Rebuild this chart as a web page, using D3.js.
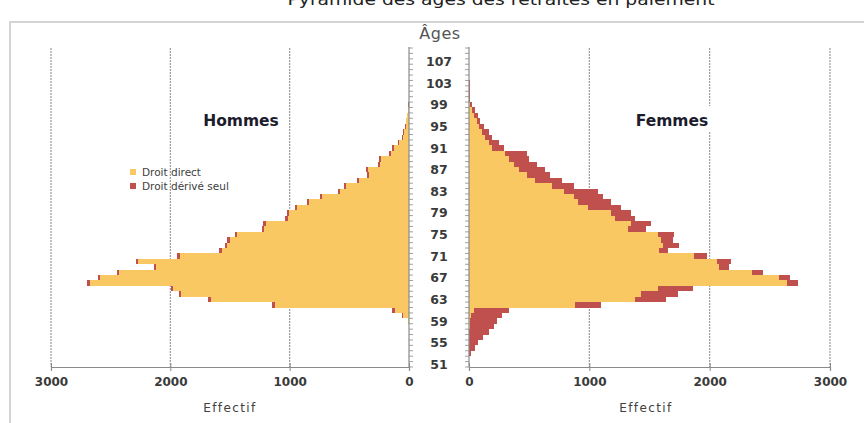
<!DOCTYPE html>
<html>
<head>
<meta charset="utf-8">
<script src="https://cdn.jsdelivr.net/npm/d3@7"></script>
<style>
  body { margin: 0; background: #fff; }
  svg { display: block; }
</style>
</head>
<body>
<div id="chart"></div>
<script>
// categories: ages shown on the vertical axis
let ageMin = 51, ageMax = 109;
let ageTicks = [51, 55, 59, 63, 67, 71, 75, 79, 83, 87, 91, 95, 99, 103, 107];
let xTicks = [0, 1000, 2000, 3000];

// ages with data (51 -> 103)
let dataAges = [51, 52, 53, 54, 55, 56, 57, 58, 59, 60,
  61, 62, 63, 64, 65, 66, 67, 68, 69, 70,
  71, 72, 73, 74, 75, 76, 77, 78, 79, 80,
  81, 82, 83, 84, 85, 86, 87, 88, 89, 90,
  91, 92, 93, 94, 95, 96, 97, 98, 99, 100,
  101, 102, 103];

let hommesDirect = [0, 0, 0, 0, 0, 0, 0, 0, 5, 48,
  120, 1126, 1663, 1909, 1979, 2677, 2587, 2427, 2119, 2273,
  1923, 1570, 1522, 1503, 1438, 1212, 1202, 1018, 1004, 940,
  836, 732, 575, 528, 416, 332, 346, 244, 232, 152,
  126, 83, 50, 38, 25, 21, 14, 5, 1, 0,
  0, 0, 0];
let hommesDerive = [0, 0, 0, 0, 0, 0, 0, 0, 0, 12,
  20, 22, 18, 18, 18, 20, 18, 18, 18, 18,
  18, 18, 18, 18, 18, 18, 18, 18, 18, 18,
  18, 18, 18, 18, 18, 18, 18, 18, 18, 16,
  14, 12, 10, 9, 8, 7, 6, 5, 4, 2,
  0, 0, 0];

let femmesDirect = [0, 0, 0, 0, 0, 0, 0, 5, 10, 20,
  40, 880, 1376, 1431, 1569, 2643, 2574, 2354, 2079, 2065,
  1872, 1577, 1610, 1597, 1569, 1321, 1349, 1211, 1183, 990,
  908, 870, 790, 690, 550, 481, 412, 370, 329, 301,
  191, 164, 136, 109, 87, 67, 40, 21, 8, 0,
  0, 0, 0];
let femmesDerive = [0, 0, 20, 50, 75, 120, 164, 200, 223, 254,
  289, 221, 262, 303, 289, 88, 91, 88, 82, 115,
  105, 80, 138, 96, 132, 152, 165, 165, 166, 276,
  276, 244, 284, 180, 220, 193, 220, 193, 167, 180,
  97, 82, 55, 55, 35, 28, 36, 27, 18, 12,
  10, 8, 6];

let seriesNames = ['Droit direct', 'Droit dérivé seul'];
let colors = ['#F9C863', '#C0504D'];

let width = 864, height = 423;
let plotTop = 48, plotBottom = 367;

let svg = d3.select('#chart').append('svg')
  .attr('width', width)
  .attr('height', height)
  .style('font-family', 'DejaVu Sans, sans-serif');

// chart frame
svg.append('rect')
  .attr('x', 10).attr('y', 22)
  .attr('width', 880).attr('height', 430)
  .attr('fill', 'none')
  .attr('stroke', '#d4d4d4')
  .attr('stroke-width', 2);

// title (cut off at the top in the original)
svg.append('text')
  .attr('x', 501).attr('y', 5)
  .attr('text-anchor', 'middle')
  .attr('font-size', 15)
  .attr('fill', '#222')
  .attr('textLength', 427)
  .attr('lengthAdjust', 'spacingAndGlyphs')
  .text('Pyramide des âges des retraités en paiement');

// scales
let y = d3.scaleBand()
  .domain(d3.range(ageMin, ageMax + 1))
  .range([plotBottom, plotTop])
  .padding(0);

let xL = d3.scaleLinear().domain([0, 3000]).range([409, 51]);
let xR = d3.scaleLinear().domain([0, 3000]).range([469, 830]);

let rows = dataAges.map((a, i) => ({
  age: a,
  hd: hommesDirect[i], hv: hommesDerive[i],
  fd: femmesDirect[i], fv: femmesDerive[i]
}));

// gridlines
let grid = svg.append('g').attr('class', 'grid');
xTicks.filter(t => t > 0).forEach(t => {
  [xL(t), xR(t)].forEach(gx => {
    grid.append('line')
      .attr('x1', gx).attr('x2', gx)
      .attr('y1', plotTop).attr('y2', plotBottom)
      .attr('stroke', '#9a9a9a')
      .attr('stroke-width', 1.2)
      .attr('stroke-dasharray', '2,1');
  });
});

// bars - hommes (left)
let bw = y.bandwidth();
let left = svg.append('g').attr('class', 'hommes').attr('shape-rendering', 'crispEdges');
left.selectAll('.direct')
  .data(rows).enter().append('rect')
  .attr('x', d => xL(d.hd))
  .attr('y', d => y(d.age))
  .attr('width', d => xL(0) - xL(d.hd))
  .attr('height', bw)
  .attr('fill', colors[0]);
left.selectAll('.derive')
  .data(rows).enter().append('rect')
  .attr('x', d => xL(d.hd + d.hv))
  .attr('y', d => y(d.age))
  .attr('width', d => xL(d.hd) - xL(d.hd + d.hv))
  .attr('height', bw)
  .attr('fill', colors[1]);

// bars - femmes (right)
let right = svg.append('g').attr('class', 'femmes').attr('shape-rendering', 'crispEdges');
right.selectAll('.direct')
  .data(rows).enter().append('rect')
  .attr('x', xR(0))
  .attr('y', d => y(d.age))
  .attr('width', d => xR(d.fd) - xR(0))
  .attr('height', bw)
  .attr('fill', colors[0]);
right.selectAll('.derive')
  .data(rows).enter().append('rect')
  .attr('x', d => xR(d.fd))
  .attr('y', d => y(d.age))
  .attr('width', d => xR(d.fd + d.fv) - xR(d.fd))
  .attr('height', bw)
  .attr('fill', colors[1]);

// vertical age axes with a tick at every category edge
let axisColor = '#8a8a8a';
let edges = y.domain().map(a => y(a)).concat([plotBottom]);
let ageAxis = svg.append('g').attr('class', 'age-axis');
[[xL(0), 4], [xR(0), -4]].forEach(([ax, len]) => {
  ageAxis.append('line')
    .attr('x1', ax).attr('x2', ax)
    .attr('y1', plotTop - 1).attr('y2', plotBottom)
    .attr('stroke', axisColor).attr('stroke-width', 1.2);
  ageAxis.selectAll(null)
    .data(edges).enter().append('line')
    .attr('x1', ax).attr('x2', ax + len)
    .attr('y1', d => d).attr('y2', d => d)
    .attr('stroke', axisColor).attr('stroke-width', 0.8);
});

ageAxis.selectAll('.ageLabel')
  .data(ageTicks).enter().append('text')
  .attr('class', 'ageLabel')
  .attr('x', 439)
  .attr('y', d => y(d) + bw / 2)
  .attr('dy', '0.36em')
  .attr('text-anchor', 'middle')
  .attr('font-size', 12.5)
  .attr('font-weight', 'bold')
  .attr('fill', '#3a3a3a')
  .text(d => d);

svg.append('text')
  .attr('x', 440).attr('y', 39)
  .attr('text-anchor', 'middle')
  .attr('font-size', 16)
  .attr('letter-spacing', 0.5)
  .attr('fill', '#555')
  .text('Âges');

// bottom axes
function bottomAxis(scale, labelX) {
  let g = svg.append('g')
    .attr('transform', `translate(0, ${plotBottom})`)
    .call(d3.axisBottom(scale).tickValues(xTicks).tickSizeOuter(0).tickSize(4).tickFormat(d3.format('d')));
  g.select('.domain').attr('stroke', axisColor).attr('stroke-width', 1.2);
  g.selectAll('.tick line')
    .attr('y1', -4).attr('y2', 4)
    .attr('stroke', axisColor);
  g.selectAll('.tick text')
    .attr('y', 10)
    .attr('font-family', 'DejaVu Sans, sans-serif')
    .attr('font-size', 12)
    .attr('font-weight', 'bold')
    .attr('fill', '#3a3a3a');
  svg.append('text')
    .attr('x', labelX).attr('y', 412)
    .attr('text-anchor', 'middle')
    .attr('font-size', 12)
    .attr('letter-spacing', 1.4)
    .attr('fill', '#404040')
    .text('Effectif');
}
bottomAxis(xL, 230);
bottomAxis(xR, 646);

// side titles
svg.append('text')
  .attr('x', 241).attr('y', 126)
  .attr('text-anchor', 'middle')
  .attr('font-size', 15.5)
  .attr('font-weight', 'bold')
  .attr('fill', '#1c1c2c')
  .text('Hommes');

svg.append('rect')
  .attr('x', 630).attr('y', 106)
  .attr('width', 84).attr('height', 26)
  .attr('fill', '#fff');
svg.append('text')
  .attr('x', 672).attr('y', 126)
  .attr('text-anchor', 'middle')
  .attr('font-size', 15.5)
  .attr('font-weight', 'bold')
  .attr('fill', '#1c1c2c')
  .text('Femmes');

// legend
let legend = svg.selectAll('.legend')
  .data(seriesNames).enter().append('g')
  .attr('class', 'legend')
  .attr('transform', (d, i) => `translate(130, ${169 + i * 14})`);
legend.append('rect')
  .attr('width', 6).attr('height', 6)
  .attr('fill', (d, i) => colors[i]);
legend.append('text')
  .attr('x', 12).attr('y', 3)
  .attr('dy', '0.36em')
  .attr('font-size', 10.5)
  .attr('fill', '#404040')
  .text(d => d);
</script>
</body>
</html>
